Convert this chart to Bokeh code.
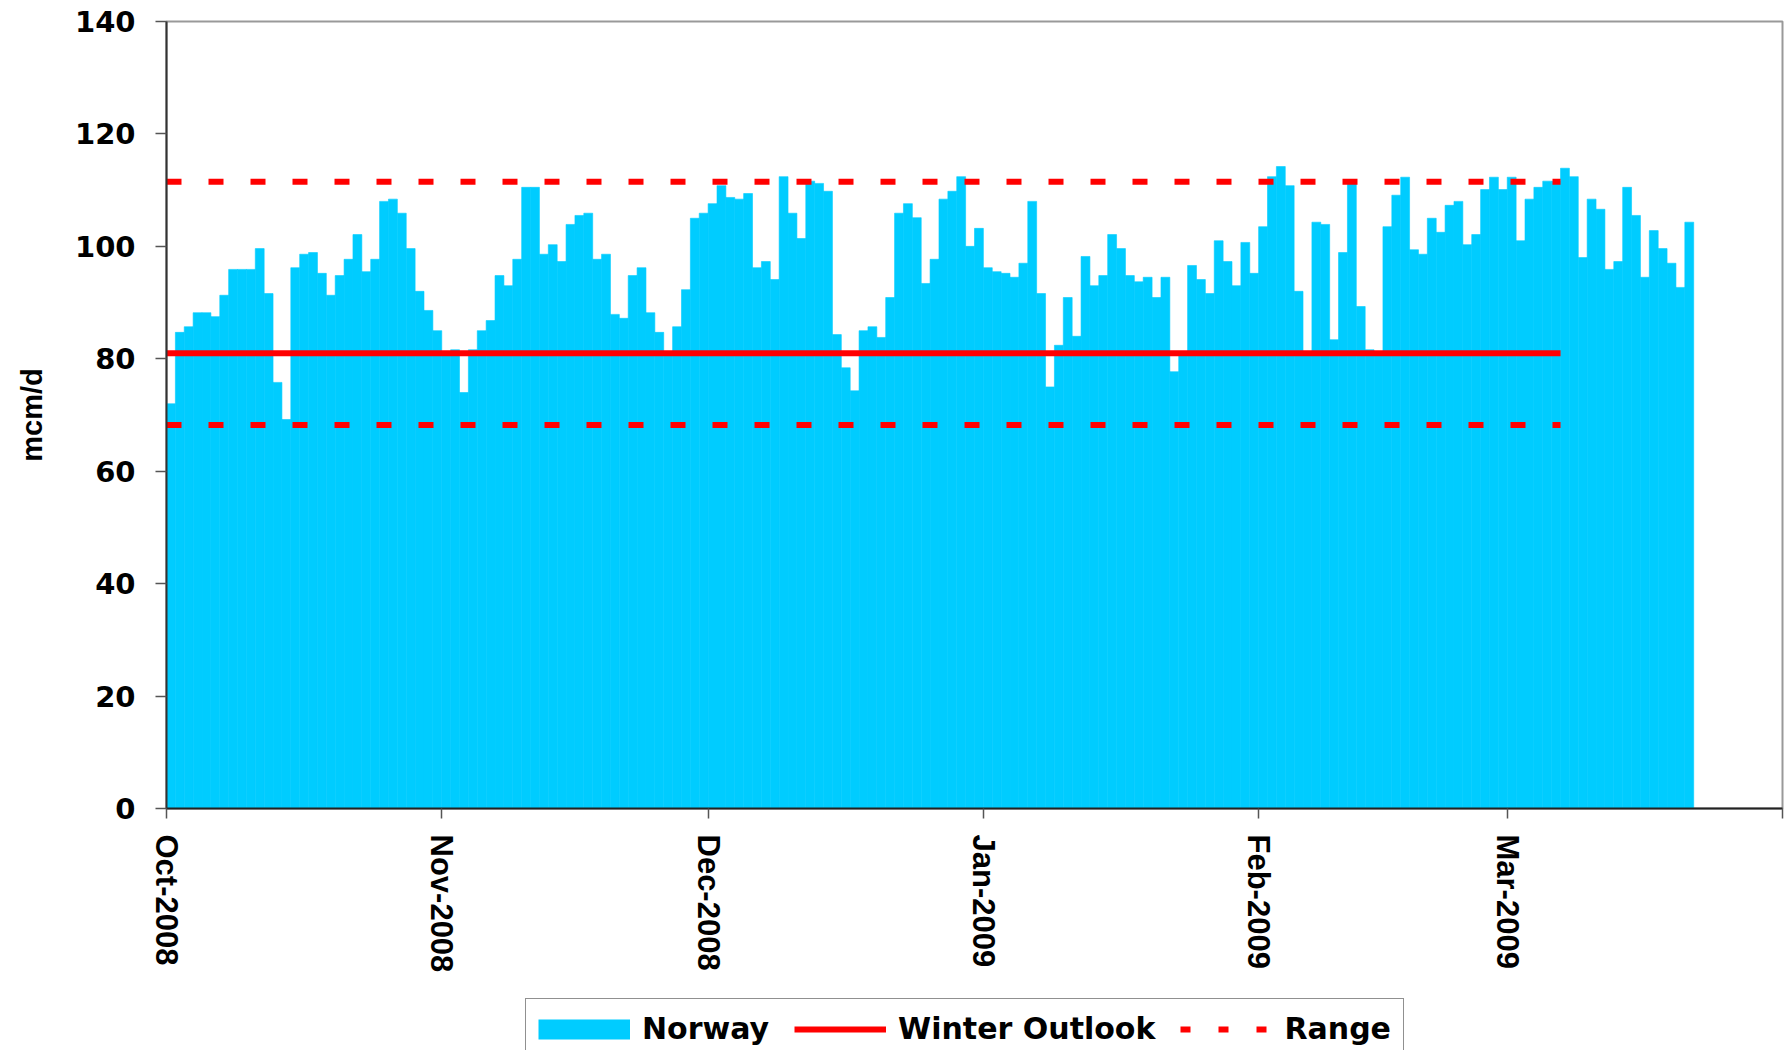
import pandas as pd
from bokeh.plotting import figure
from bokeh.layouts import column
from bokeh.models import (ColumnDataSource, Range1d, FixedTicker, DatetimeTickFormatter,
                          Legend, LegendItem)
from bokeh.embed import file_html
from bokeh.resources import INLINE

# ---------------- data ----------------
start_date = "2008-10-01"
norway = [
    # Oct 2008
    72.0, 84.7, 85.7, 88.2, 88.2, 87.5, 91.3, 95.9, 95.9, 95.9,
    99.6, 91.6, 75.8, 69.2, 96.2, 98.6, 98.9, 95.2, 91.3, 94.8,
    97.7, 102.1, 95.5, 97.7, 108.0, 108.4, 105.9, 99.6, 92.0, 88.6, 85.0,
    # Nov 2008
    80.8, 81.6, 74.0, 81.6, 85.0, 86.8, 94.8, 93.0, 97.7, 110.5,
    110.5, 98.6, 100.3, 97.3, 103.9, 105.5, 105.9, 97.7, 98.6, 87.9,
    87.2, 94.8, 96.2, 88.2, 84.7, 80.8, 85.7, 92.3, 105.0, 105.9,
    # Dec 2008
    107.6, 110.8, 108.7, 108.4, 109.4, 96.2, 97.3, 94.1, 112.4, 105.9,
    101.4, 111.6, 111.2, 109.8, 84.3, 78.4, 74.3, 85.0, 85.7, 83.8,
    90.9, 105.9, 107.6, 105.1, 93.4, 97.7, 108.4, 109.8, 112.4, 100.0, 103.2,
    # Jan 2009
    96.2, 95.5, 95.2, 94.5, 97.0, 108.0, 91.6, 75.0, 82.4, 90.9,
    84.0, 98.2, 93.0, 94.8, 102.1, 99.6, 94.8, 93.7, 94.5, 90.9,
    94.5, 77.7, 80.8, 96.6, 94.1, 91.6, 101.0, 97.3, 93.0, 100.7, 95.2,
    # Feb 2009
    103.5, 112.4, 114.2, 110.8, 92.0, 80.8, 104.3, 103.9, 83.4, 98.9,
    111.6, 89.3, 81.6, 80.8, 103.5, 109.1, 112.3, 99.4, 98.6, 105.0,
    102.5, 107.3, 108.0, 100.3, 102.1, 110.1, 112.3, 110.1,
    # Mar 2009
    112.3, 101.0, 108.4, 110.5, 111.6, 111.6, 113.9, 112.4, 98.0, 108.4,
    106.6, 95.9, 97.3, 110.5, 105.5, 94.5, 102.8, 99.6, 97.0, 92.7, 104.3,
]

outlook_dates = ["2008-10-01", "2009-03-07"]
outlook_values = [81.0, 81.0]
range_high = [111.5, 111.5]
range_low = [68.2, 68.2]

month_ticks = ["2008-10-01", "2008-11-01", "2008-12-01", "2009-01-01",
               "2009-02-01", "2009-03-01", "2009-04-01"]
y_ticks = [0, 20, 40, 60, 80, 100, 120, 140]

BAR_COLOR = "#00CCFF"
RED = "#FF0000"
DASH = "15 27"

# ---------------- build ----------------
def ms(d):
    return float(pd.Timestamp(d).value // 10**6)

dates = pd.date_range(start_date, periods=len(norway), freq="D")
bar_src = ColumnDataSource(dict(x=dates + pd.Timedelta(hours=12), top=norway))
line_x = [pd.Timestamp(d) for d in outlook_dates]

p = figure(width=1785, height=990, x_axis_type="datetime",
           output_backend="svg", toolbar_location=None,
           x_range=Range1d(pd.Timestamp("2008-10-01"), pd.Timestamp("2009-04-01")),
           y_range=Range1d(0, 140),
           min_border_left=166, min_border_right=3, min_border_top=21,
           min_border_bottom=182)

bars = p.vbar(x="x", top="top", width=86400000, source=bar_src,
              fill_color=BAR_COLOR, line_color=BAR_COLOR, line_width=0.6)
outlook = p.line(line_x, outlook_values, line_color=RED, line_width=6)
rng_hi = p.line(line_x, range_high, line_color=RED, line_width=6, line_dash=DASH)
rng_lo = p.line(line_x, range_low, line_color=RED, line_width=6, line_dash=DASH)

p.xgrid.visible = False
p.ygrid.visible = False
p.background_fill_color = "white"
p.border_fill_color = "white"
p.outline_line_color = "#999999"
p.outline_line_width = 2

# y axis
ya = p.yaxis[0]
ya.ticker = FixedTicker(ticks=y_ticks)
ya.axis_line_color = "#333333"
ya.axis_line_width = 2
ya.major_tick_line_color = "#555555"
ya.major_tick_line_width = 1.5
ya.major_tick_out = 11
ya.major_tick_in = 0
ya.minor_tick_line_color = None
ya.major_label_text_font = "DejaVu Sans"
ya.major_label_text_font_style = "bold"
ya.major_label_text_font_size = "29px"
ya.major_label_text_color = "black"
ya.major_label_standoff = 20
ya.axis_label = "mcm/d"
ya.axis_label_text_font = "Liberation Sans"
ya.axis_label_text_font_style = "bold"
ya.axis_label_text_font_size = "29px"
ya.axis_label_text_color = "black"
ya.axis_label_standoff = 24

# x axis
xa = p.xaxis[0]
xa.ticker = FixedTicker(ticks=[ms(t) for t in month_ticks])
fmt = "%b-%Y"
xa.formatter = DatetimeTickFormatter(days=fmt, months=fmt, years=fmt,
                                     hours=fmt, minutes=fmt, seconds=fmt,
                                     milliseconds=fmt, microseconds=fmt)
xa.major_label_overrides = {ms(month_ticks[-1]): ""}
xa.major_label_orientation = "vertical"
xa.axis_line_color = "#222222"
xa.axis_line_width = 2
xa.major_tick_line_color = "#555555"
xa.major_tick_line_width = 1.5
xa.major_tick_out = 10
xa.major_tick_in = 0
xa.minor_tick_line_color = None
xa.major_label_text_font = "Liberation Sans"
xa.major_label_text_font_style = "bold"
xa.major_label_text_font_size = "31px"
xa.major_label_text_color = "black"
xa.major_label_standoff = 16

# ---------------- legend strip ----------------
lg = figure(width=1785, height=60, output_backend="svg", toolbar_location=None,
            x_range=Range1d(0, 1), y_range=Range1d(0, 1),
            x_axis_location=None, y_axis_location=None,
            min_border=0, min_border_left=0, min_border_right=0,
            min_border_top=0, min_border_bottom=0)
lg.xgrid.visible = False
lg.ygrid.visible = False
lg.outline_line_color = None
lg.background_fill_color = "white"
lg.border_fill_color = "white"

# legend-only proxy glyphs (hidden, outside the visible range)
off = ColumnDataSource(dict(x=[5, 6], y=[-5, -5]))
lg_bar = lg.line(x="x", y="y", source=off, line_color=BAR_COLOR, line_width=20,
                 line_cap="butt", visible=False)
lg_out = lg.line(x="x", y="y", source=off, line_color=RED, line_width=6,
                 visible=False)
lg_rng = lg.line(x="x", y="y", source=off, line_color=RED, line_width=6,
                 line_dash="10 28", visible=False)

legend = Legend(items=[LegendItem(label="Norway", renderers=[lg_bar]),
                       LegendItem(label="Winter Outlook", renderers=[lg_out]),
                       LegendItem(label="Range", renderers=[lg_rng])],
                location=(359, -9), orientation="horizontal",
                glyph_width=92, glyph_height=22, label_standoff=12,
                spacing=25, padding=12, margin=0,
                border_line_color="#222222", border_line_width=1.5,
                background_fill_color="white", background_fill_alpha=1.0,
                label_text_font="DejaVu Sans", label_text_font_style="bold",
                label_text_font_size="30px", label_text_color="black")
lg.add_layout(legend, "center")

layout = column(p, lg, spacing=0)
open("out.html", "w").write(file_html(layout, INLINE))
